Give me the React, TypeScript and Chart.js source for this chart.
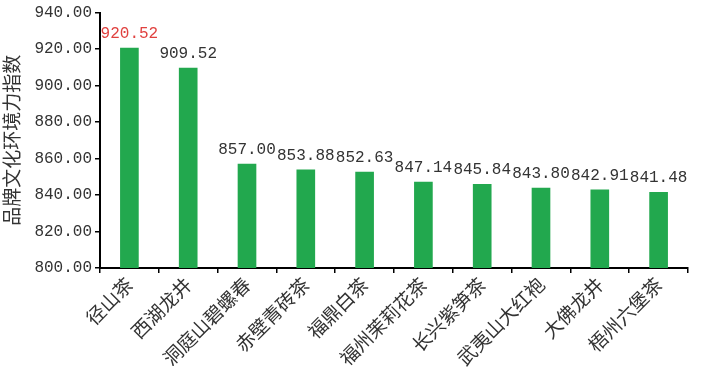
import React, { useEffect, useRef } from "react";
import { Chart, registerables } from "chart.js";
Chart.register(...registerables);

const categories = ["径山茶", "西湖龙井", "洞庭山碧螺春", "赤壁青砖茶", "福鼎白茶", "福州茉莉花茶", "长兴紫笋茶", "武夷山大红袍", "大佛龙井", "梧州六堡茶"];
const values = [920.52, 909.52, 857.0, 853.88, 852.63, 847.14, 845.84, 843.8, 842.91, 841.48];
const labelColors = ["#e0413f", "#333333", "#333333", "#333333", "#333333", "#333333", "#333333", "#333333", "#333333", "#333333"];
const yTitle = "品牌文化环境力指数";

const numFont = "'Liberation Mono', monospace";
const cjkFont = "'Noto Sans CJK SC', sans-serif";

const valueLabels = {
  id: "valueLabels",
  afterDatasetsDraw(chart: any) {
    const ctx = chart.ctx;
    const meta = chart.getDatasetMeta(0);
    ctx.save();
    ctx.font = "16px " + numFont;
    ctx.textAlign = "center";
    ctx.textBaseline = "alphabetic";
    meta.data.forEach((bar: any, i: number) => {
      ctx.fillStyle = labelColors[i];
      ctx.fillText(values[i].toFixed(2), bar.x, bar.y - 10);
    });
    ctx.restore();
  },
};

export default function App() {
  const ref = useRef<HTMLCanvasElement>(null);
  useEffect(() => {
    const chart = new Chart(ref.current!, {
      type: "bar",
      data: {
        labels: categories,
        datasets: [{ data: values, backgroundColor: "#22a84e", barThickness: 18 }],
      },
      options: {
        animation: false,
        responsive: false,
        maintainAspectRatio: false,
        layout: { padding: { top: 11, right: 16, left: 0, bottom: 0 } },
        plugins: { legend: { display: false }, tooltip: { enabled: false } },
        scales: {
          x: {
            grid: { display: true, drawOnChartArea: false, drawTicks: true, offset: true, tickLength: 5, color: "#000", lineWidth: 1.5 },
            border: { color: "#000", width: 2 },
            ticks: {
              color: "#333",
              font: { family: cjkFont, size: 19 },
              maxRotation: 45,
              minRotation: 45,
              padding: 0,
              autoSkip: false,
            },
            afterFit: (s: any) => { s.height = 101; },
          },
          y: {
            min: 800,
            max: 940,
            grid: { display: true, drawOnChartArea: false, drawTicks: true, tickLength: 5, color: "#000", lineWidth: 1.5 },
            border: { color: "#000", width: 2 },
            ticks: {
              stepSize: 20,
              color: "#333",
              font: { family: numFont, size: 16 },
              padding: 3,
              callback: (v: any) => Number(v).toFixed(2),
            },
            title: {
              display: true,
              text: yTitle,
              color: "#333",
              font: { family: cjkFont, size: 19 },
              padding: { top: 0, bottom: 6 },
            },
            afterFit: (s: any) => { s.width = 100; },
          },
        },
      },
      plugins: [valueLabels],
    });
    return () => chart.destroy();
  }, []);
  return (
    <div style={{ position: "fixed", left: 0, top: 0, width: 704, height: 369, background: "#fff" }}>
      <canvas ref={ref} width={704} height={369} />
    </div>
  );
}
